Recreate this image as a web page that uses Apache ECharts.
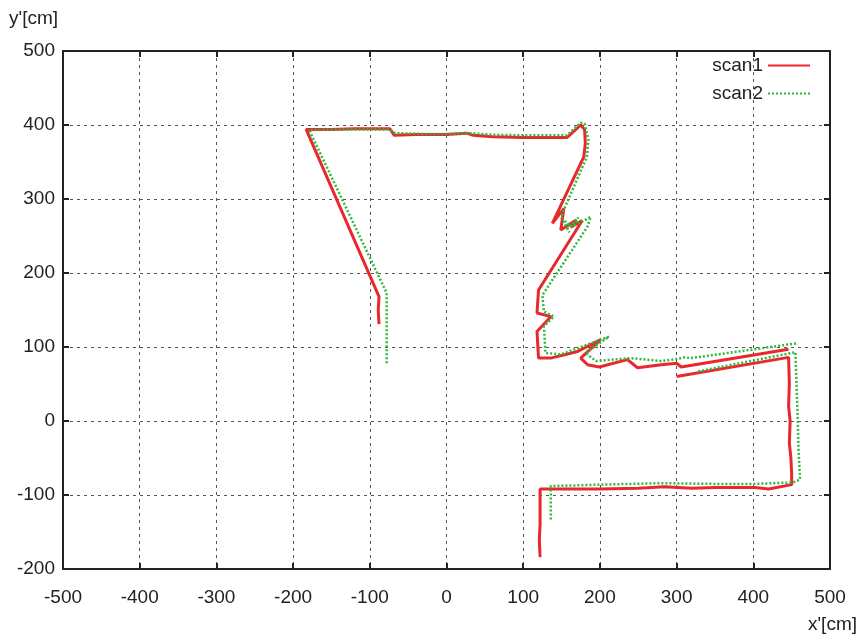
<!DOCTYPE html>
<html>
<head>
<meta charset="utf-8">
<script src="https://cdn.jsdelivr.net/npm/echarts@6/dist/echarts.min.js"></script>
<style>
  html, body { margin: 0; padding: 0; background: #fff; }
  #chart { width: 861px; height: 639px; }
</style>
</head>
<body>
<div id="chart"></div>
<script>
// Axis ranges and tick spacing
const xRange = [-500, 500];
const yRange = [-200, 500];
const tickStep = 100;

const seriesNames = ['scan1', 'scan2'];

// scan1 contour points [x, y] in cm; null splits the polyline
const scan1 = [
  [-88, 131], [-89, 150], [-88, 168], [-183, 394], [-150, 394], [-120, 395],
  [-74, 395], [-68, 386], [-40, 387], [0, 387], [26, 389], [35, 386], [60, 384],
  [100, 383], [130, 383], [157, 383], [175, 400], [180, 394], [181, 375],
  [179, 357], [138, 267], [153, 287], [149, 258], [168, 271], [162, 262],
  [177, 271], [120, 177], [118, 146], [136, 141], [118, 121], [120, 85],
  [136, 85], [171, 94], [201, 110], [175, 85], [184, 76], [199, 73], [236, 83],
  [249, 72], [280, 76], [300, 78], [306, 73], [446, 97],
  null,
  [300, 60], [446, 86], [447, 50], [446, 20], [448, 0], [447, -30], [449, -50],
  [450, -72], [450, -86], [420, -92], [402, -90], [350, -90], [320, -91],
  [284, -89], [250, -91], [200, -92], [150, -92], [122, -92], [122, -140],
  [121, -160], [122, -184]
];

// scan2 contour points [x, y] in cm; null splits the polyline
const scan2 = [
  [-78, 78], [-78, 130], [-78, 173], [-179, 393], [-140, 394], [-74, 394],
  [-67, 389], [-30, 388], [0, 388], [30, 389], [60, 387], [100, 386],
  [157, 386], [175, 403], [180, 402], [185, 380], [183, 357], [149, 276],
  [160, 255], [155, 270], [165, 262], [172, 275], [160, 262], [178, 270],
  [188, 276], [184, 263], [125, 170], [127, 148], [140, 141], [127, 128],
  [129, 92], [149, 90], [212, 114], [181, 92], [195, 81], [240, 85],
  [280, 81], [302, 84], [310, 86], [319, 85], [457, 105],
  null,
  [328, 67], [455, 93], [456, 60], [458, 0], [459, -40], [461, -79],
  [452, -83], [400, -85], [350, -85], [280, -84], [200, -86], [136, -88],
  [136, -110], [136, -135]
];

const axisFont = 'Liberation Sans, Arial, Helvetica, sans-serif';
const gridDash = { type: [3, 4], color: '#555', width: 1 };

function xAxisDef(pos, labels) {
  return {
    type: 'value', position: pos, min: xRange[0], max: xRange[1], interval: tickStep,
    axisLine: { show: true, onZero: false, lineStyle: { color: '#222', width: 2 } },
    axisTick: { show: true, inside: true, length: 6, lineStyle: { color: '#222', width: 2 } },
    axisLabel: { show: labels, color: '#222', fontSize: 19, fontFamily: axisFont, margin: 19 },
    splitLine: { show: labels, lineStyle: gridDash }
  };
}
function yAxisDef(pos, labels) {
  return {
    type: 'value', position: pos, min: yRange[0], max: yRange[1], interval: tickStep,
    axisLine: { show: true, onZero: false, lineStyle: { color: '#222', width: 2 } },
    axisTick: { show: true, inside: true, length: 6, lineStyle: { color: '#222', width: 2 } },
    axisLabel: { show: labels, color: '#222', fontSize: 19, fontFamily: axisFont, margin: 8 },
    splitLine: { show: labels, lineStyle: gridDash }
  };
}

const chart = echarts.init(document.getElementById('chart'));
chart.setOption({
  animation: false,
  backgroundColor: '#fff',
  grid: { left: 63, right: 31, top: 51, bottom: 70, containLabel: false },
  xAxis: [xAxisDef('bottom', true), xAxisDef('top', false)],
  yAxis: [yAxisDef('left', true), yAxisDef('right', false)],
  legend: {
    orient: 'vertical', right: 46, top: 51, align: 'right',
    itemWidth: 42, itemHeight: 14, itemGap: 9,
    textStyle: { fontSize: 19, fontFamily: axisFont, color: '#222', padding: [0, 0, 0, 0] },
    data: [
      { name: seriesNames[0], icon: 'path://M0,6H42V8H0Z', itemStyle: { color: '#e8282c' } },
      { name: seriesNames[1], icon: 'path://M0,6H2V8H0ZM4,6H6V8H4ZM8,6H10V8H8ZM12,6H14V8H12ZM16,6H18V8H16ZM20,6H22V8H20ZM24,6H26V8H24ZM28,6H30V8H28ZM32,6H34V8H32ZM36,6H38V8H36ZM40,6H42V8H40Z', itemStyle: { color: '#2fb83a' } }
    ]
  },
  graphic: [
    { type: 'text', left: 9, top: 9, style: { text: "y'[cm]", fontSize: 19, fontFamily: axisFont, fill: '#222' } },
    { type: 'text', right: 4, top: 615, style: { text: "x'[cm]", fontSize: 19, fontFamily: axisFont, fill: '#222' } }
  ],
  series: [
    {
      name: seriesNames[0], type: 'line', data: scan1, showSymbol: false, symbol: 'none',
      connectNulls: false, z: 3,
      lineStyle: { color: '#e8282c', width: 3 }, itemStyle: { color: '#e8282c' }
    },
    {
      name: seriesNames[1], type: 'line', data: scan2, showSymbol: false, symbol: 'none',
      connectNulls: false, z: 4,
      lineStyle: { color: '#2fb83a', width: 2.5, type: [2, 2] }, itemStyle: { color: '#2fb83a' }
    }
  ]
});
</script>
</body>
</html>
